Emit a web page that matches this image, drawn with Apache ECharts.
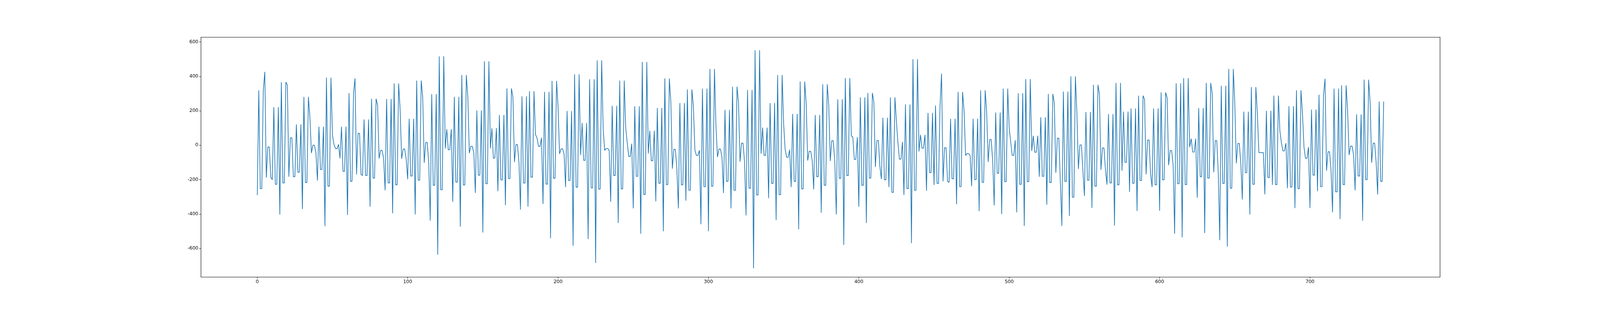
<!DOCTYPE html>
<html>
<head>
<meta charset="utf-8">
<script src="https://cdn.jsdelivr.net/npm/echarts@6/dist/echarts.min.js"></script>
<style>html,body{margin:0;padding:0;background:#fff;overflow:hidden}#container{width:100vw;height:100vh}</style>
</head>
<body>
<div id="container"></div>
<script>
var xTicks = [0, 100, 200, 300, 400, 500, 600, 700];
var yTicks = [-600, -400, -200, 0, 200, 400, 600];

var values = [
  -290, 319, -252, -252, 319, 426, -188, -10, -10, -188,
  -200, 221, -227, -227, 221, -403, 367, -219, -219, 367,
  350, -183, 43, 43, -183, -183, 121, -157, -157, 121,
  -371, 281, -217, -217, 281, 162, -45, 0, 0, -45,
  -205, 108, -141, -141, 108, -470, 393, -238, -238, 393,
  57, 5, -20, -20, 5, -76, 108, -152, -152, 108,
  -405, 303, -210, -210, 303, 388, -170, 69, 69, -170,
  -176, 150, -176, -176, 150, -357, 270, -191, -191, 270,
  233, -77, -30, -30, -77, -262, 269, -219, -219, 269,
  -395, 359, -230, -230, 359, 205, -79, -22, -22, -79,
  -198, 154, -179, -179, 154, -402, 376, -203, -203, 376,
  281, -102, 16, 16, -102, -438, 297, -233, -233, 297,
  -636, 516, -259, -259, 516, -19, 93, -26, -26, 93,
  -329, 281, -214, -214, 281, -473, 408, -231, -231, 408,
  281, -46, -6, -6, -46, -277, 202, -174, -174, 202,
  -507, 488, -224, -224, 488, -18, 98, -76, -73, 100,
  -267, 176, -202, -202, 176, -348, 330, -194, -194, 330,
  281, -98, 4, 4, -98, -374, 284, -220, -220, 284,
  -357, 314, -186, -186, 314, 62, 43, -7, -7, 43,
  -341, 310, -226, -226, 310, -540, 374, -192, -192, 374,
  224, -50, -21, -21, -50, -243, 199, -205, -205, 199,
  -584, 412, -244, -244, 412, -57, 129, -88, -88, 129,
  -545, 383, -248, -248, 383, -684, 493, -255, -255, 493,
  95, -30, -19, -19, -30, -329, 229, -176, -176, 229,
  -452, 376, -254, -254, 376, 100, 14, -65, -65, 9,
  -367, 226, -181, -181, 226, -514, 484, -286, -286, 484,
  -48, 84, -90, -90, 84, -326, 216, -221, -221, 216,
  -500, 388, -229, -229, 388, 254, -136, -24, -24, -136,
  -367, 245, -230, -230, 245, -322, 324, -262, -262, 324,
  224, -29, -59, -59, -29, -459, 329, -241, -241, 329,
  -500, 443, -238, -238, 443, 110, -69, -22, -22, -69,
  -278, 205, -210, -210, 205, -367, 340, -262, -262, 340,
  248, -96, 12, 12, -96, -408, 321, -250, -250, 321,
  -715, 552, -289, -289, 552, -49, 102, -59, -59, 102,
  -308, 245, -222, -222, 245, -435, 408, -288, -288, 408,
  124, -24, -70, -70, -26, -243, 182, -210, -210, 182,
  -488, 370, -254, -254, 370, 243, -89, -35, -35, -89,
  -257, 176, -183, -183, 176, -392, 354, -233, -233, 354,
  233, -92, 26, 26, -92, -402, 267, -193, -193, 267,
  -579, 390, -176, -176, 390, 54, 48, -83, -83, 46,
  -357, 278, -233, -233, 278, -452, 304, -191, -191, 304,
  252, -126, 28, 28, -124, -197, 160, -201, -201, 160,
  -243, 278, -274, -274, 278, 138, 14, -81, -81, 19,
  -289, 237, -252, -252, 237, -569, 500, -262, -262, 500,
  -36, 60, -17, -17, 60, -265, 188, -159, -159, 188,
  -231, 231, -222, -222, 231, 416, -210, -14, -14, -210,
  -216, 154, -195, -195, 154, -343, 310, -241, -241, 310,
  195, -60, -48, -48, -60, -238, 154, -200, -200, 154,
  -383, 319, -216, -216, 319, 195, -97, 33, 33, -90,
  -350, 190, -163, -163, 190, -400, 329, -212, -212, 329,
  98, 19, -59, -59, 29, -390, 302, -227, -227, 302,
  -469, 384, -212, -212, 384, -33, 55, -41, -41, 55,
  -183, 162, -181, -181, 162, -345, 298, -217, -217, 298,
  246, -160, 41, 41, -214, -469, 312, -211, -211, 312,
  -411, 400, -302, -302, 400, 186, -138, 2, 2, -148,
  -295, 193, -203, -203, 193, -364, 351, -238, -238, 351,
  297, -143, -16, -16, -143, -229, 181, -219, -219, 181,
  -467, 362, -230, -230, 362, -148, 195, -100, -100, 195,
  -271, 214, -221, -221, 214, -382, 288, -205, -205, 288,
  267, -169, 30, 30, -169, -243, 214, -230, -230, 214,
  -381, 307, -201, -201, 307, 276, -116, -31, -31, -116,
  -514, 360, -224, -224, 360, -535, 390, -229, -229, 390,
  -11, 38, -40, -40, 38, -305, 216, -183, -183, 216,
  -510, 362, -191, -191, 362, 300, -157, 27, 27, -157,
  -552, 345, -222, -222, 345, -589, 443, -250, -250, 443,
  243, -105, 10, 10, -105, -316, 195, -160, -160, 195,
  -403, 338, -227, -227, 338, 186, -43, -43, -43, -43,
  -286, 200, -188, -188, 200, -231, 288, -229, -229, 288,
  81, 14, -33, -33, 12, -250, 227, -243, -243, 227,
  -365, 319, -252, -252, 319, 186, -10, -76, -76, -11,
  -365, 207, -174, -174, 207, -267, 293, -241, -241, 293,
  386, -148, -38, -38, -148, -390, 329, -271, -271, 329,
  -429, 348, -229, -229, 348, 205, -57, -5, -5, -57,
  -262, 179, -179, -179, 179, -438, 381, -200, -200, 381,
  248, -102, 12, 12, -102, -286, 254, -210, -210, 254
];

var dom = document.getElementById('container');
var myChart = echarts.init(dom);

// scale sizes to the actual window so the layout matches a 4800-wide figure
var k = (dom.clientWidth || window.innerWidth) / 4800;

var labelFont = { color: '#000', fontSize: 14 * k, fontFamily: 'DejaVu Sans' };
var spine = { show: true, onZero: false, lineStyle: { color: '#000', width: 1.3 * k } };
var tick = { show: true, length: 5 * k, lineStyle: { color: '#000', width: 1.2 * k } };

var option = {
  animation: false,
  backgroundColor: '#fff',
  grid: { left: '12.56%', right: '10%', top: '11.9%', bottom: '11.25%' },
  xAxis: [{
    type: 'value',
    min: -37.45,
    max: 786.45,
    axisLine: spine,
    axisTick: Object.assign({ customValues: xTicks }, tick),
    axisLabel: Object.assign({ margin: 8 * k, customValues: xTicks }, labelFont),
    splitLine: { show: false }
  }, {
    type: 'value',
    position: 'top',
    min: -37.45,
    max: 786.45,
    axisLine: spine,
    axisTick: { show: false },
    axisLabel: { show: false },
    splitLine: { show: false }
  }],
  yAxis: [{
    type: 'value',
    min: -765,
    max: 628,
    axisLine: spine,
    axisTick: Object.assign({ customValues: yTicks }, tick),
    axisLabel: Object.assign({ margin: 8 * k, customValues: yTicks }, labelFont),
    splitLine: { show: false }
  }, {
    type: 'value',
    position: 'right',
    min: -765,
    max: 628,
    axisLine: spine,
    axisTick: { show: false },
    axisLabel: { show: false },
    splitLine: { show: false }
  }],
  series: [{
    type: 'line',
    showSymbol: false,
    lineStyle: { color: '#1f77b4', width: 2 * k },
    data: values.map(function (v, i) { return [i, v]; })
  }]
};

myChart.setOption(option);
</script>
</body>
</html>
